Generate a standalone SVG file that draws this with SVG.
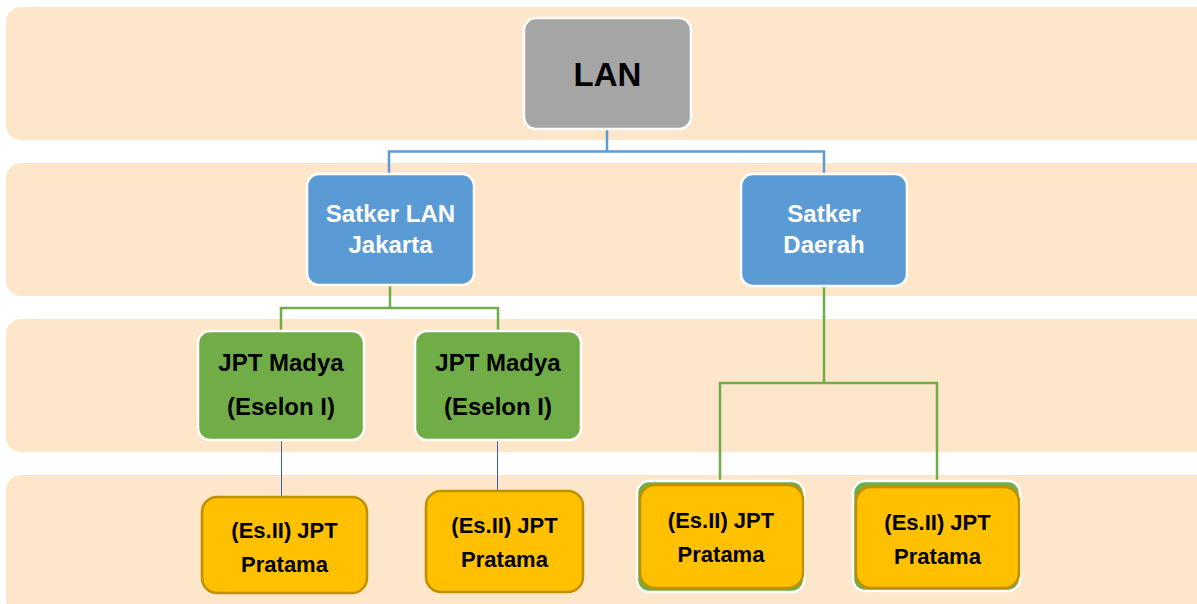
<svg xmlns="http://www.w3.org/2000/svg" width="1197" height="604" viewBox="0 0 1197 604">
<style>
.band{fill:#FEE6CA}
.t{font-family:"Liberation Sans",Arial,sans-serif;font-weight:bold;text-anchor:middle}
.gray{fill:#A5A5A5;stroke:#FFFFFF;stroke-width:2.5}
.blue{fill:#5B9BD5;stroke:#FFFFFF;stroke-width:2.5}
.green{fill:#70AD47;stroke:#FFFFFF;stroke-width:2.5}
.gold{fill:#FFC000;stroke:#BF9000;stroke-width:2.5}
.cb{fill:none;stroke:#5B9BD5;stroke-width:2.5}
.cg{fill:none;stroke:#70AD47;stroke-width:2.5}
.ct{fill:none;stroke:#3D5FA8;stroke-width:1}
</style>
<rect width="1197" height="604" fill="#FFFFFF"/>
<g id="bands">
<rect class="band" x="6" y="7" width="1210" height="133" rx="15"/>
<rect class="band" x="6" y="163" width="1210" height="133" rx="15"/>
<rect class="band" x="6" y="319" width="1210" height="133" rx="15"/>
<rect class="band" x="6" y="475" width="1210" height="140" rx="15"/>
</g>
<g id="connectors">
<path class="cb" d="M607 129 V151.5 M389 175 V151.5 H824 V175"/>
<path class="cg" d="M390 285 V308 M281 331 V308 H498 V331"/>
<path class="cg" d="M824 286 V383 M720 481 V383 H937 V481"/>
<path class="ct" d="M281.5 441 V497 M497.5 441 V491"/>
</g>
<g id="lan">
<rect class="gray" x="524" y="18" width="167" height="111" rx="12"/>
<text class="t" x="607.5" y="86" font-size="33" fill="#000000">LAN</text>
</g>
<g id="satker-jakarta">
<rect class="blue" x="307" y="174" width="167" height="111" rx="12"/>
<text class="t" x="390.5" y="222" font-size="24" fill="#FFFFFF">Satker LAN</text>
<text class="t" x="390.5" y="253" font-size="24" fill="#FFFFFF">Jakarta</text>
</g>
<g id="satker-daerah">
<rect class="blue" x="741" y="174" width="166" height="112" rx="12"/>
<text class="t" x="824" y="222" font-size="24" fill="#FFFFFF">Satker</text>
<text class="t" x="824" y="253" font-size="24" fill="#FFFFFF">Daerah</text>
</g>
<g id="madya-1">
<rect class="green" x="198" y="331" width="166" height="109" rx="12"/>
<text class="t" x="281" y="371" font-size="24" fill="#000000">JPT Madya</text>
<text class="t" x="281" y="415" font-size="24" fill="#000000">(Eselon I)</text>
</g>
<g id="madya-2">
<rect class="green" x="415" y="331" width="166" height="109" rx="12"/>
<text class="t" x="498" y="371" font-size="24" fill="#000000">JPT Madya</text>
<text class="t" x="498" y="415" font-size="24" fill="#000000">(Eselon I)</text>
</g>
<g id="pratama-1">
<rect class="gold" x="202" y="497" width="165" height="96" rx="15"/>
<text class="t" x="284.5" y="538" font-size="22" fill="#000000">(Es.II) JPT</text>
<text class="t" x="284.5" y="572" font-size="22" fill="#000000">Pratama</text>
</g>
<g id="pratama-2">
<rect class="gold" x="426" y="491" width="157" height="101" rx="15"/>
<text class="t" x="504.5" y="533" font-size="22" fill="#000000">(Es.II) JPT</text>
<text class="t" x="504.5" y="567" font-size="22" fill="#000000">Pratama</text>
</g>
<g id="pratama-3">
<rect class="green" x="637" y="481" width="167" height="111" rx="12"/>
<rect class="gold" x="640" y="485" width="163" height="103" rx="15"/>
<text class="t" x="721" y="528" font-size="22" fill="#000000">(Es.II) JPT</text>
<text class="t" x="721" y="562" font-size="22" fill="#000000">Pratama</text>
</g>
<g id="pratama-4">
<rect class="green" x="853" y="481" width="167" height="110" rx="12"/>
<rect class="gold" x="856" y="487" width="163" height="101" rx="15"/>
<text class="t" x="937.5" y="530" font-size="22" fill="#000000">(Es.II) JPT</text>
<text class="t" x="937.5" y="564" font-size="22" fill="#000000">Pratama</text>
</g>
</svg>
